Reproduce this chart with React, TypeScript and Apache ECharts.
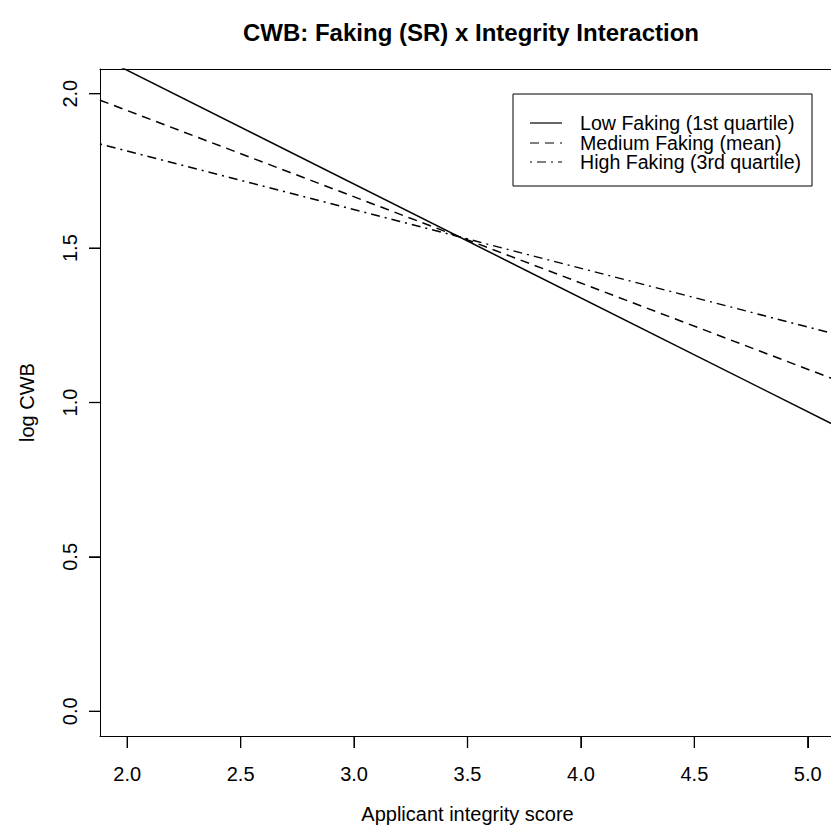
import React, { useEffect, useRef } from "react";
import * as echarts from "echarts";

const xEnds = [1.88, 5.12];
const lowFaking = [2.12, 0.926];
const mediumFaking = [1.979, 1.074];
const highFaking = [1.837, 1.222];
const xTicks = [2.0, 2.5, 3.0, 3.5, 4.0, 4.5, 5.0];
const yTicks = [0.0, 0.5, 1.0, 1.5, 2.0];
const seriesNames = [
  "Low Faking (1st quartile)",
  "Medium Faking (mean)",
  "High Faking (3rd quartile)",
];

const FONT = "'Liberation Sans', Arial, Helvetica, sans-serif";
const DASH = [9, 6];
const DASHDOT = [2, 5, 9, 5];
const X_MIN = 1.88;
const X_MAX = 5.12;
const Y_MIN = -0.08;
const Y_MAX = 2.08;

export default function App() {
  const ref = useRef<HTMLDivElement>(null);
  useEffect(() => {
    if (!ref.current) return;
    const chart = echarts.init(ref.current, null, { renderer: "svg" });
    const mk = (name: string, vals: number[], dash: any) => ({
      name,
      type: "line",
      xAxisIndex: 0,
      yAxisIndex: 0,
      data: xEnds.map((x, i) => [x, vals[i]]),
      showSymbol: false,
      symbol: "none",
      clip: true,
      lineStyle: { color: "#000", width: 1.5, type: dash },
    });
    const tickSeries = (data: number[][], horizontal: boolean, len: number) => ({
      type: "custom",
      xAxisIndex: 0,
      yAxisIndex: 0,
      silent: true,
      clip: false,
      z: 20,
      data,
      renderItem: (params: any, api: any) => {
        const p = api.coord([api.value(0), api.value(1)]);
        return {
          type: "line",
          shape: horizontal
            ? { x1: p[0] - len, y1: p[1], x2: p[0], y2: p[1] }
            : { x1: p[0], y1: p[1], x2: p[0], y2: p[1] + len },
          style: { stroke: "#000", lineWidth: 1.3 },
        };
      },
    });
    const legendRows = [
      { dash: null, y: 123 },
      { dash: DASH, y: 143 },
      { dash: DASHDOT, y: 162 },
    ];
    const borderAxis = (extra: any) => ({
      type: "value",
      axisLine: { show: true, onZero: false, lineStyle: { color: "#000", width: 1 } },
      axisTick: { show: false },
      axisLabel: { show: false },
      splitLine: { show: false },
      ...extra,
    });
    chart.setOption({
      animation: false,
      backgroundColor: "#fff",
      title: {
        text: "CWB: Faking (SR) x Integrity Interaction",
        left: 466,
        top: 15,
        textAlign: "center",
        textStyle: { fontFamily: FONT, fontWeight: "bold", fontSize: 24, color: "#000" },
      },
      grid: {
        left: 100,
        top: 69,
        width: 735,
        height: 667,
        show: false,
        containLabel: false,
        outerBoundsMode: "none",
      },
      xAxis: [
        {
          type: "value",
          min: X_MIN,
          max: X_MAX,
          position: "bottom",
          name: "Applicant integrity score",
          nameLocation: "middle",
          nameGap: 68,
          nameTextStyle: { fontFamily: FONT, fontSize: 20, color: "#000" },
          axisLine: { show: true, onZero: false, lineStyle: { color: "#000", width: 1 } },
          splitLine: { show: false },
          axisTick: {
            show: true,
            inside: false,
            length: 12,
            customValues: xTicks,
            lineStyle: { color: "#000", width: 1 },
          },
          axisLabel: {
            customValues: xTicks,
            formatter: (v: number) => v.toFixed(1),
            fontFamily: FONT,
            fontSize: 20,
            color: "#000",
            margin: 28,
          },
        },
        borderAxis({ min: X_MIN, max: X_MAX, position: "top" }),
      ],
      yAxis: [
        {
          type: "value",
          min: Y_MIN,
          max: Y_MAX,
          position: "left",
          name: "log CWB",
          nameLocation: "middle",
          nameGap: 63,
          nameRotate: 90,
          nameTextStyle: { fontFamily: FONT, fontSize: 20, color: "#000" },
          axisLine: { show: true, onZero: false, lineStyle: { color: "#000", width: 1 } },
          splitLine: { show: false },
          axisTick: {
            show: true,
            inside: false,
            length: 11,
            customValues: yTicks,
            lineStyle: { color: "#000", width: 1 },
          },
          axisLabel: {
            customValues: yTicks,
            formatter: (v: number) => v.toFixed(1),
            rotate: 90,
            fontFamily: FONT,
            fontSize: 20,
            color: "#000",
            margin: 20,
          },
        },
        borderAxis({ min: Y_MIN, max: Y_MAX, position: "right" }),
      ],
      series: [
        mk(seriesNames[0], lowFaking, "solid"),
        mk(seriesNames[1], mediumFaking, DASH),
        mk(seriesNames[2], highFaking, DASHDOT),
        tickSeries(xTicks.map((v) => [v, Y_MIN]), false, 12),
        tickSeries(yTicks.map((v) => [X_MIN, v]), true, 11),
      ],
      graphic: [
        {
          type: "rect",
          shape: { x: 513, y: 94, width: 299, height: 92 },
          style: { fill: "#fff", stroke: "#000", lineWidth: 1 },
          z: 10,
        },
        ...legendRows.map((r) => ({
          type: "line",
          shape: { x1: 530, y1: r.y, x2: 562, y2: r.y },
          style: { stroke: "#000", lineWidth: 1.2, lineDash: r.dash || undefined },
          z: 11,
        })),
        ...legendRows.map((r, i) => ({
          type: "text",
          x: 580,
          y: r.y,
          style: {
            text: seriesNames[i],
            fontFamily: FONT,
            fontSize: 19.6,
            lineHeight: 15,
            fill: "#000",
            verticalAlign: "middle",
          },
          z: 11,
        })),
      ],
    });
    return () => chart.dispose();
  }, []);
  return (
    <div
      ref={ref}
      style={{ position: "absolute", left: 0, top: 0, width: 831, height: 831 }}
    />
  );
}
